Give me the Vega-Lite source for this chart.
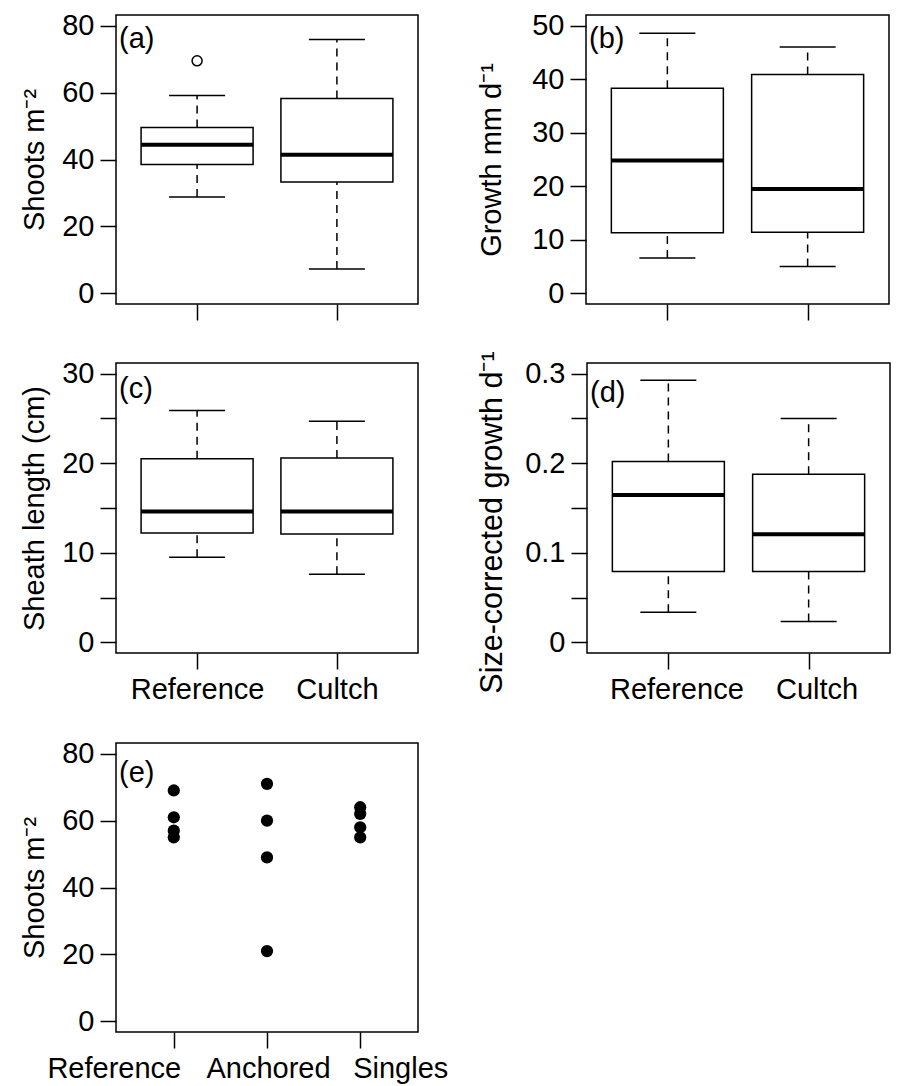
{
  "$schema": "https://vega.github.io/schema/vega-lite/v6.json",
  "background": "white",
  "padding": {"left": 19, "top": 10, "right": 5, "bottom": 5},
  "config": {
    "font": "Liberation Sans",
    "view": {"stroke": "black", "strokeWidth": 1.5},
    "axis": {"domain": false, "grid": false, "tickColor": "black", "tickWidth": 1.5, "tickSize": 16, "labelFont": "Liberation Sans", "labelFontSize": 29, "labelColor": "black", "labelPadding": 6, "titleFont": "Liberation Sans", "titleFontSize": 29, "titleFontWeight": "normal", "titleColor": "black", "labelOverlap": false, "labelFlush": false},
    "axisY": {"titleBaseline": "alphabetic", "titleAngle": -90},
    "axisX": {"labelAngle": 0},
    "title": {"anchor": "start", "frame": "group", "offset": -42, "dx": 3, "baseline": "alphabetic", "fontSize": 29, "fontWeight": "normal", "font": "Liberation Sans", "color": "black"}
  },
  "datasets": {
    "a_box": [
      {"group": "Reference", "lower": 28.8, "q1": 38.5, "median": 44.4, "q3": 49.6, "upper": 59.1},
      {"group": "Cultch", "lower": 7.3, "q1": 33.3, "median": 41.4, "q3": 58.2, "upper": 75.9}
    ],
    "a_out": [{"group": "Reference", "value": 69.5}],
    "b_box": [
      {"group": "Reference", "lower": 6.6, "q1": 11.3, "median": 24.8, "q3": 38.3, "upper": 48.6},
      {"group": "Cultch", "lower": 5.0, "q1": 11.4, "median": 19.5, "q3": 40.9, "upper": 46.0}
    ],
    "c_box": [
      {"group": "Reference", "lower": 9.5, "q1": 12.2, "median": 14.6, "q3": 20.5, "upper": 25.9},
      {"group": "Cultch", "lower": 7.6, "q1": 12.1, "median": 14.6, "q3": 20.6, "upper": 24.7}
    ],
    "d_box": [
      {"group": "Reference", "lower": 0.0335, "q1": 0.079, "median": 0.1644, "q3": 0.202, "upper": 0.2926},
      {"group": "Cultch", "lower": 0.0231, "q1": 0.079, "median": 0.1207, "q3": 0.1878, "upper": 0.25}
    ],
    "e_pts": [
      {"group": "Reference", "value": 69},
      {"group": "Reference", "value": 61},
      {"group": "Reference", "value": 57},
      {"group": "Reference", "value": 55},
      {"group": "Anchored", "value": 71},
      {"group": "Anchored", "value": 60},
      {"group": "Anchored", "value": 49},
      {"group": "Anchored", "value": 21},
      {"group": "Singles", "value": 64},
      {"group": "Singles", "value": 62},
      {"group": "Singles", "value": 58},
      {"group": "Singles", "value": 55}
    ]
  },
  "vconcat": [
    {
      "vconcat": [
        {
          "hconcat": [
            {
              "width": 302, "height": 289,
              "title": {"text": "(a)", "offset": -42},
              "data": {"name": "a_box"},
              "encoding": {"x": {"field": "group", "type": "nominal", "scale": {"type": "point", "domain": ["Reference", "Cultch"], "padding": 0.58}, "axis": {"labels": false, "title": null}}},
              "layer": [
                {"mark": {"type": "rule", "strokeDash": [8, 6], "strokeWidth": 1.5, "color": "black"}, "encoding": {"y": {"field": "lower", "type": "quantitative", "scale": {"domain": [-3.2, 83.2], "nice": false, "zero": false}, "axis": {"values": [0, 20, 40, 60, 80], "title": "Shoots m⁻²", "titleX": -73}}, "y2": {"field": "q1"}}},
                {"mark": {"type": "rule", "strokeDash": [8, 6], "strokeWidth": 1.5, "color": "black"}, "encoding": {"y": {"field": "q3", "type": "quantitative", "scale": {"domain": [-3.2, 83.2], "nice": false, "zero": false}, "axis": {"values": [0, 20, 40, 60, 80], "title": "Shoots m⁻²", "titleX": -73}}, "y2": {"field": "upper"}}},
                {"mark": {"type": "tick", "size": 56, "thickness": 1.5, "color": "black", "opacity": 1}, "encoding": {"y": {"field": "lower", "type": "quantitative", "scale": {"domain": [-3.2, 83.2], "nice": false, "zero": false}, "axis": {"values": [0, 20, 40, 60, 80], "title": "Shoots m⁻²", "titleX": -73}}}},
                {"mark": {"type": "tick", "size": 56, "thickness": 1.5, "color": "black", "opacity": 1}, "encoding": {"y": {"field": "upper", "type": "quantitative", "scale": {"domain": [-3.2, 83.2], "nice": false, "zero": false}, "axis": {"values": [0, 20, 40, 60, 80], "title": "Shoots m⁻²", "titleX": -73}}}},
                {"mark": {"type": "bar", "size": 112, "fill": "white", "stroke": "black", "strokeWidth": 1.5, "opacity": 1}, "encoding": {"y": {"field": "q1", "type": "quantitative", "scale": {"domain": [-3.2, 83.2], "nice": false, "zero": false}, "axis": {"values": [0, 20, 40, 60, 80], "title": "Shoots m⁻²", "titleX": -73}}, "y2": {"field": "q3"}}},
                {"mark": {"type": "tick", "size": 112, "thickness": 4, "color": "black", "opacity": 1}, "encoding": {"y": {"field": "median", "type": "quantitative", "scale": {"domain": [-3.2, 83.2], "nice": false, "zero": false}, "axis": {"values": [0, 20, 40, 60, 80], "title": "Shoots m⁻²", "titleX": -73}}}},
                {"data": {"name": "a_out"}, "mark": {"type": "point", "shape": "circle", "filled": false, "size": 100, "strokeWidth": 1.5, "color": "black", "opacity": 1}, "encoding": {"y": {"field": "value", "type": "quantitative", "scale": {"domain": [-3.2, 83.2], "nice": false, "zero": false}, "axis": {"values": [0, 20, 40, 60, 80], "title": "Shoots m⁻²", "titleX": -73}}}}
              ]
            },
            {
              "width": 303, "height": 289,
              "title": {"text": "(b)", "offset": -42},
              "data": {"name": "b_box"},
              "encoding": {"x": {"field": "group", "type": "nominal", "scale": {"type": "point", "domain": ["Reference", "Cultch"], "padding": 0.58}, "axis": {"labels": false, "title": null}}},
              "layer": [
                {"mark": {"type": "rule", "strokeDash": [8, 6], "strokeWidth": 1.5, "color": "black"}, "encoding": {"y": {"field": "lower", "type": "quantitative", "scale": {"domain": [-2, 52], "nice": false, "zero": false}, "axis": {"values": [0, 10, 20, 30, 40, 50], "title": "Growth mm d⁻¹", "titleX": -86}}, "y2": {"field": "q1"}}},
                {"mark": {"type": "rule", "strokeDash": [8, 6], "strokeWidth": 1.5, "color": "black"}, "encoding": {"y": {"field": "q3", "type": "quantitative", "scale": {"domain": [-2, 52], "nice": false, "zero": false}, "axis": {"values": [0, 10, 20, 30, 40, 50], "title": "Growth mm d⁻¹", "titleX": -86}}, "y2": {"field": "upper"}}},
                {"mark": {"type": "tick", "size": 56, "thickness": 1.5, "color": "black", "opacity": 1}, "encoding": {"y": {"field": "lower", "type": "quantitative", "scale": {"domain": [-2, 52], "nice": false, "zero": false}, "axis": {"values": [0, 10, 20, 30, 40, 50], "title": "Growth mm d⁻¹", "titleX": -86}}}},
                {"mark": {"type": "tick", "size": 56, "thickness": 1.5, "color": "black", "opacity": 1}, "encoding": {"y": {"field": "upper", "type": "quantitative", "scale": {"domain": [-2, 52], "nice": false, "zero": false}, "axis": {"values": [0, 10, 20, 30, 40, 50], "title": "Growth mm d⁻¹", "titleX": -86}}}},
                {"mark": {"type": "bar", "size": 112, "fill": "white", "stroke": "black", "strokeWidth": 1.5, "opacity": 1}, "encoding": {"y": {"field": "q1", "type": "quantitative", "scale": {"domain": [-2, 52], "nice": false, "zero": false}, "axis": {"values": [0, 10, 20, 30, 40, 50], "title": "Growth mm d⁻¹", "titleX": -86}}, "y2": {"field": "q3"}}},
                {"mark": {"type": "tick", "size": 112, "thickness": 4, "color": "black", "opacity": 1}, "encoding": {"y": {"field": "median", "type": "quantitative", "scale": {"domain": [-2, 52], "nice": false, "zero": false}, "axis": {"values": [0, 10, 20, 30, 40, 50], "title": "Growth mm d⁻¹", "titleX": -86}}}}
              ]
            }
          ],
          "spacing": 57
        },
        {
          "hconcat": [
            {
              "width": 302, "height": 290,
              "title": {"text": "(c)", "offset": -44},
              "data": {"name": "c_box"},
              "encoding": {"x": {"field": "group", "type": "nominal", "scale": {"type": "point", "domain": ["Reference", "Cultch"], "padding": 0.58}, "axis": {"title": null}}},
              "layer": [
                {"mark": {"type": "rule", "strokeDash": [8, 6], "strokeWidth": 1.5, "color": "black"}, "encoding": {"y": {"field": "lower", "type": "quantitative", "scale": {"domain": [-1.2, 31.2], "nice": false, "zero": false}, "axis": {"values": [0, 5, 10, 15, 20, 25, 30], "labelExpr": "datum.value % 10 == 0 ? datum.label : ''", "title": "Sheath length (cm)", "titleX": -73}}, "y2": {"field": "q1"}}},
                {"mark": {"type": "rule", "strokeDash": [8, 6], "strokeWidth": 1.5, "color": "black"}, "encoding": {"y": {"field": "q3", "type": "quantitative", "scale": {"domain": [-1.2, 31.2], "nice": false, "zero": false}, "axis": {"values": [0, 5, 10, 15, 20, 25, 30], "labelExpr": "datum.value % 10 == 0 ? datum.label : ''", "title": "Sheath length (cm)", "titleX": -73}}, "y2": {"field": "upper"}}},
                {"mark": {"type": "tick", "size": 56, "thickness": 1.5, "color": "black", "opacity": 1}, "encoding": {"y": {"field": "lower", "type": "quantitative", "scale": {"domain": [-1.2, 31.2], "nice": false, "zero": false}, "axis": {"values": [0, 5, 10, 15, 20, 25, 30], "labelExpr": "datum.value % 10 == 0 ? datum.label : ''", "title": "Sheath length (cm)", "titleX": -73}}}},
                {"mark": {"type": "tick", "size": 56, "thickness": 1.5, "color": "black", "opacity": 1}, "encoding": {"y": {"field": "upper", "type": "quantitative", "scale": {"domain": [-1.2, 31.2], "nice": false, "zero": false}, "axis": {"values": [0, 5, 10, 15, 20, 25, 30], "labelExpr": "datum.value % 10 == 0 ? datum.label : ''", "title": "Sheath length (cm)", "titleX": -73}}}},
                {"mark": {"type": "bar", "size": 112, "fill": "white", "stroke": "black", "strokeWidth": 1.5, "opacity": 1}, "encoding": {"y": {"field": "q1", "type": "quantitative", "scale": {"domain": [-1.2, 31.2], "nice": false, "zero": false}, "axis": {"values": [0, 5, 10, 15, 20, 25, 30], "labelExpr": "datum.value % 10 == 0 ? datum.label : ''", "title": "Sheath length (cm)", "titleX": -73}}, "y2": {"field": "q3"}}},
                {"mark": {"type": "tick", "size": 112, "thickness": 4, "color": "black", "opacity": 1}, "encoding": {"y": {"field": "median", "type": "quantitative", "scale": {"domain": [-1.2, 31.2], "nice": false, "zero": false}, "axis": {"values": [0, 5, 10, 15, 20, 25, 30], "labelExpr": "datum.value % 10 == 0 ? datum.label : ''", "title": "Sheath length (cm)", "titleX": -73}}}}
              ]
            },
            {
              "width": 303, "height": 290,
              "title": {"text": "(d)", "offset": -57},
              "data": {"name": "d_box"},
              "encoding": {"x": {"field": "group", "type": "nominal", "scale": {"type": "point", "domain": ["Reference", "Cultch"], "padding": 0.58}, "axis": {"title": null, "labelOffset": 8}}},
              "layer": [
                {"mark": {"type": "rule", "strokeDash": [8, 6], "strokeWidth": 1.5, "color": "black"}, "encoding": {"y": {"field": "lower", "type": "quantitative", "scale": {"domain": [-0.012, 0.312], "nice": false, "zero": false}, "axis": {"values": [0, 0.05, 0.1, 0.15, 0.2, 0.25, 0.3], "labelExpr": "round(datum.value * 100) % 10 == 0 ? format(datum.value, '.1~f') : ''", "title": "Size-corrected growth d⁻¹", "titleX": -86, "titleY": 159, "titleFontSize": 30.5}}, "y2": {"field": "q1"}}},
                {"mark": {"type": "rule", "strokeDash": [8, 6], "strokeWidth": 1.5, "color": "black"}, "encoding": {"y": {"field": "q3", "type": "quantitative", "scale": {"domain": [-0.012, 0.312], "nice": false, "zero": false}, "axis": {"values": [0, 0.05, 0.1, 0.15, 0.2, 0.25, 0.3], "labelExpr": "round(datum.value * 100) % 10 == 0 ? format(datum.value, '.1~f') : ''", "title": "Size-corrected growth d⁻¹", "titleX": -86, "titleY": 159, "titleFontSize": 30.5}}, "y2": {"field": "upper"}}},
                {"mark": {"type": "tick", "size": 56, "thickness": 1.5, "color": "black", "opacity": 1}, "encoding": {"y": {"field": "lower", "type": "quantitative", "scale": {"domain": [-0.012, 0.312], "nice": false, "zero": false}, "axis": {"values": [0, 0.05, 0.1, 0.15, 0.2, 0.25, 0.3], "labelExpr": "round(datum.value * 100) % 10 == 0 ? format(datum.value, '.1~f') : ''", "title": "Size-corrected growth d⁻¹", "titleX": -86, "titleY": 159, "titleFontSize": 30.5}}}},
                {"mark": {"type": "tick", "size": 56, "thickness": 1.5, "color": "black", "opacity": 1}, "encoding": {"y": {"field": "upper", "type": "quantitative", "scale": {"domain": [-0.012, 0.312], "nice": false, "zero": false}, "axis": {"values": [0, 0.05, 0.1, 0.15, 0.2, 0.25, 0.3], "labelExpr": "round(datum.value * 100) % 10 == 0 ? format(datum.value, '.1~f') : ''", "title": "Size-corrected growth d⁻¹", "titleX": -86, "titleY": 159, "titleFontSize": 30.5}}}},
                {"mark": {"type": "bar", "size": 112, "fill": "white", "stroke": "black", "strokeWidth": 1.5, "opacity": 1}, "encoding": {"y": {"field": "q1", "type": "quantitative", "scale": {"domain": [-0.012, 0.312], "nice": false, "zero": false}, "axis": {"values": [0, 0.05, 0.1, 0.15, 0.2, 0.25, 0.3], "labelExpr": "round(datum.value * 100) % 10 == 0 ? format(datum.value, '.1~f') : ''", "title": "Size-corrected growth d⁻¹", "titleX": -86, "titleY": 159, "titleFontSize": 30.5}}, "y2": {"field": "q3"}}},
                {"mark": {"type": "tick", "size": 112, "thickness": 4, "color": "black", "opacity": 1}, "encoding": {"y": {"field": "median", "type": "quantitative", "scale": {"domain": [-0.012, 0.312], "nice": false, "zero": false}, "axis": {"values": [0, 0.05, 0.1, 0.15, 0.2, 0.25, 0.3], "labelExpr": "round(datum.value * 100) % 10 == 0 ? format(datum.value, '.1~f') : ''", "title": "Size-corrected growth d⁻¹", "titleX": -86, "titleY": 159, "titleFontSize": 30.5}}}}
              ]
            }
          ],
          "spacing": 57
        }
      ],
      "spacing": 28
    },
    {
      "width": 302, "height": 289,
      "title": {"text": "(e)", "offset": -48},
      "data": {"name": "e_pts"},
      "mark": {"type": "point", "shape": "circle", "filled": true, "size": 150, "color": "black", "opacity": 1},
      "encoding": {
        "x": {"field": "group", "type": "nominal", "scale": {"type": "point", "domain": ["Reference", "Anchored", "Singles"], "padding": 0.62}, "axis": {"title": null, "labelOffset": {"expr": "datum.value == 'Reference' ? -60 : (datum.value == 'Singles' ? 40 : 1)"}}},
        "y": {"field": "value", "type": "quantitative", "scale": {"domain": [-3.2, 83.2], "nice": false, "zero": false}, "axis": {"values": [0, 20, 40, 60, 80], "title": "Shoots m⁻²", "titleX": -73}}
      }
    }
  ],
  "spacing": 33
}
